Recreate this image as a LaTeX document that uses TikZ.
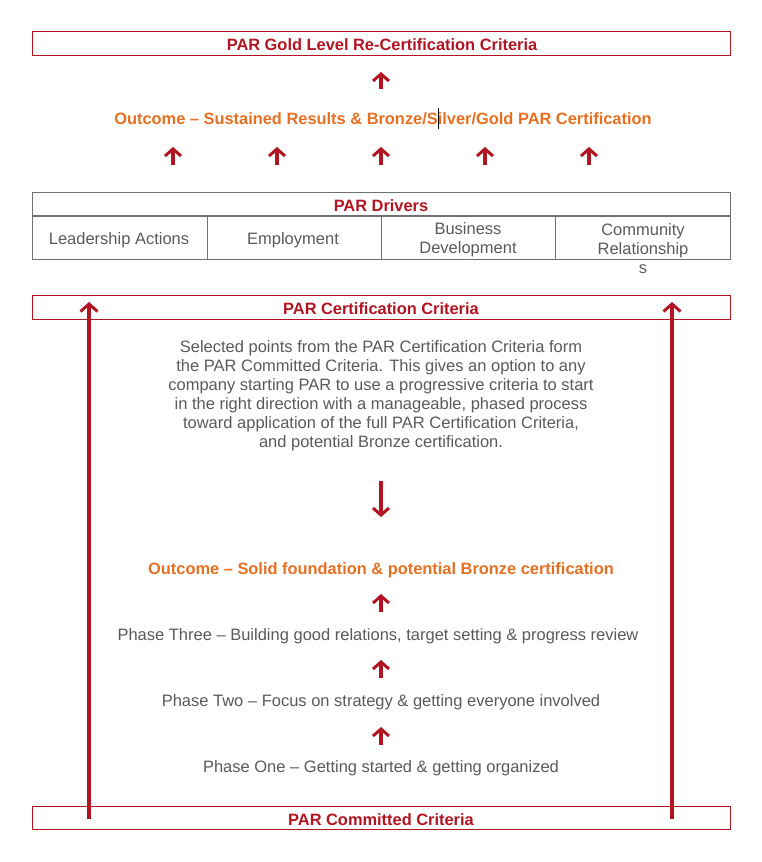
\documentclass[tikz,border=0pt]{standalone}
\usepackage{fontspec}
\setmainfont{Liberation Sans}
\usetikzlibrary{arrows.meta}
\definecolor{parred}{RGB}{178,20,34}
\definecolor{parorange}{RGB}{230,112,34}
\definecolor{pargray}{RGB}{90,90,90}
\definecolor{parline}{RGB}{112,112,112}
\tikzset{
  redbox/.style={draw=parred, line width=1pt},
  titletext/.style={text=parred, font=\fontsize{16.4}{19}\selectfont\bfseries, inner sep=0pt},
  outtext/.style={text=parorange, font=\fontsize{16.4}{19}\selectfont\bfseries, inner sep=0pt},
  graytext/.style={text=pargray, font=\fontsize{16.5}{19}\selectfont, inner sep=0pt, align=center},
  uparrow/.style={draw=parred, line width=3.6pt, -{Straight Barb[length=7pt,width=16pt,line width=3pt]}},
  longarrow/.style={draw=parred, line width=3.8pt, -{Straight Barb[length=7.5pt,width=17pt,line width=3pt]}},
}
\begin{document}
\begin{tikzpicture}[x=1pt,y=-1pt]
\useasboundingbox (0,0) rectangle (761,862);
% Gold box
\draw[redbox] (32,31) rectangle (730,55);
\node[titletext] (gold) at (382,45) {PAR Gold Level Re-Certification Criteria};
\coordinate (a0s) at (381,89); \coordinate (a0e) at (381,72);
\draw[uparrow] (a0s) -- (a0e);
\node[outtext] (out1) at (383,118.5) {Outcome – Sustained Results \& Bronze/Silver/Gold PAR Certification};
\draw[black, line width=0.8pt] (438.5,108) -- (438.5,129);
% five arrows
\foreach \x [count=\i] in {173,277,381,485,589}{
  \coordinate (b\i s) at (\x,165);
  \coordinate (b\i e) at (\x,147);
  \draw[uparrow] (b\i s) -- (b\i e);
}
% drivers table
\draw[parline, line width=1pt] (32,192) rectangle (730,259);
\draw[parline, line width=2pt] (32,216) -- (730,216);
\foreach \x in {207,381,555}{\draw[parline, line width=1pt] (\x,216) -- (\x,259);}
\node[titletext] (drv) at (381,205.5) {PAR Drivers};
\node[graytext] (d1) at (119,240) {Leadership Actions};
\node[graytext] (d2) at (293,240) {Employment};
\node[graytext] (d3) at (468,240) {Business\\Development};
\node[graytext, anchor=north] (d4) at (643,223) {Community\\Relationship\\s};
% certification criteria
\draw[redbox] (32,295) rectangle (730,319);
\node[titletext] (cert) at (381,308.5) {PAR Certification Criteria};
% paragraph
\node[graytext, anchor=north] (para) at (381,340) {Selected points from the PAR Certification Criteria form\\the PAR Committed Criteria. This gives an option to any\\company starting PAR to use a progressive criteria to start\\in the right direction with a manageable, phased process\\toward application of the full PAR Certification Criteria,\\and potential Bronze certification.};
\coordinate (ds) at (381,481); \coordinate (de) at (381,517);
\draw[uparrow] (ds) -- (de);
\node[outtext] (out2) at (381,570.5) {Outcome – Solid foundation \& potential Bronze certification};
\coordinate (c1s) at (381,612); \coordinate (c1e) at (381,594);
\draw[uparrow] (c1s) -- (c1e);
\node[graytext] (p3) at (378,636.5) {Phase Three – Building good relations, target setting \& progress review};
\coordinate (c2s) at (381,678); \coordinate (c2e) at (381,660);
\draw[uparrow] (c2s) -- (c2e);
\node[graytext] (p2) at (381,702.5) {Phase Two – Focus on strategy \& getting everyone involved};
\coordinate (c3s) at (381,745); \coordinate (c3e) at (381,727);
\draw[uparrow] (c3s) -- (c3e);
\node[graytext] (p1) at (381,768.5) {Phase One – Getting started \& getting organized};
% committed
\draw[redbox] (32,806) rectangle (730,829);
\node[titletext] (comm) at (381,819.5) {PAR Committed Criteria};
% long arrows
\coordinate (l1s) at (89,819); \coordinate (l1e) at (89,302);
\coordinate (l2s) at (672,819); \coordinate (l2e) at (672,302);
\draw[longarrow] (l1s) -- (l1e);
\draw[longarrow] (l2s) -- (l2e);
\end{tikzpicture}
\end{document}
